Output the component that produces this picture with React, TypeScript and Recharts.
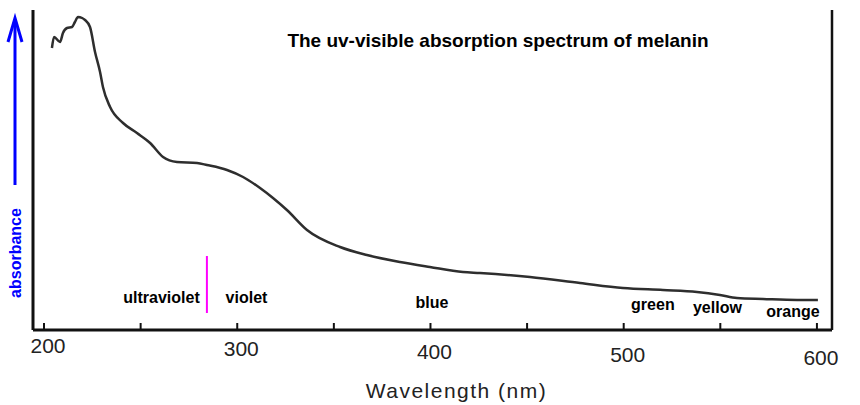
import { LineChart, Line, XAxis, YAxis, ReferenceDot, ReferenceLine } from 'recharts';

// Melanin absorption curve (arbitrary absorbance units)
const wavelength = [
  204.1, 205.2, 208.3, 209.8, 211.9, 214.5, 216.0, 217.6, 219.7, 221.2, 223.8, 226.4, 229.0,
  230.5, 234.2, 240.9, 248.1, 254.9, 261.6, 268.8, 279.2, 284.3, 294.7, 303.0, 311.8, 318.5,
  325.7, 336.1, 353.2, 367.1, 384.2, 399.7, 416.8, 425.6, 451.5, 477.4, 499.6, 520.3, 537.9,
  549.8, 558.6, 572.1, 589.7, 600.5,
];
const absorbance = [
  2.82, 2.93, 2.88, 2.97, 3.02, 3.03, 3.08, 3.13, 3.12, 3.1, 3.03, 2.78, 2.58,
  2.43, 2.23, 2.07, 1.97, 1.87, 1.73, 1.68, 1.67, 1.65, 1.6, 1.53, 1.42, 1.32,
  1.2, 1.0, 0.83, 0.75, 0.68, 0.63, 0.58, 0.57, 0.53, 0.47, 0.42, 0.4, 0.38,
  0.35, 0.32, 0.31, 0.3, 0.3,
];

const xTicks = [200, 250, 300, 350, 400, 450, 500, 550, 600];

// Colour band names under the curve
const bandNames = ['ultraviolet', 'violet', 'blue', 'green', 'yellow', 'orange'];
const bandCentres = [260.8, 304.8, 400.8, 515.1, 548.5, 587.6];
const bandLevels = [0.27, 0.27, 0.22, 0.2, 0.17, 0.13];

// UV / visible boundary marker
const uvBoundary = 284.3;
const uvBoundaryRange = [0.17, 0.74];

const data = wavelength.map((nm, i) => ({ nm, abs: absorbance[i] }));

const sans = 'Liberation Sans, Arial, sans-serif';

function XTick(props: any) {
  const { x, y, payload } = props;
  const v = payload.value as number;
  // the scan is slightly tilted, labels drift down to the right
  const drop = 23 + ((v - 200) / 400) * 12;
  return (
    <g>
      <line x1={x} y1={y} x2={x} y2={y - 7} stroke="#111" strokeWidth={2} />
      {v % 100 === 0 && (
        <text x={x + 4} y={y + drop} textAnchor="middle" fontFamily={sans} fontSize={21} fill="#222">
          {v}
        </text>
      )}
    </g>
  );
}

function YArrow() {
  return (
    <g>
      <line x1={15} y1={185} x2={15} y2={20} stroke="#0000ff" strokeWidth={3} />
      <polyline points="8,42 15,18 22,42" fill="none" stroke="#0000ff" strokeWidth={3} />
      <text
        x={21}
        y={253}
        transform="rotate(-90, 21, 253)"
        textAnchor="middle"
        fontFamily={sans}
        fontWeight="bold"
        fontSize={16}
        fill="#0000ff"
      >
        absorbance
      </text>
    </g>
  );
}

function XTitle(props: any) {
  const { viewBox } = props;
  return (
    <text
      x={viewBox.x + viewBox.width * 0.53}
      y={viewBox.y + 68}
      textAnchor="middle"
      fontFamily={sans}
      fontSize={21}
      letterSpacing={1.5}
      fill="#222"
    >
      Wavelength (nm)
    </text>
  );
}

function bandLabel(name: string) {
  return (props: any) => {
    const { viewBox } = props;
    return (
      <text x={viewBox.x} y={viewBox.y} textAnchor="middle" fontFamily={sans} fontWeight="bold" fontSize={16} fill="#000">
        {name}
      </text>
    );
  };
}

export default function App() {
  return (
    <div style={{ position: 'absolute', left: 0, top: 0, width: 860, height: 405, background: '#fff' }}>
      <div
        style={{
          position: 'absolute',
          left: 248,
          top: 31,
          width: 500,
          textAlign: 'center',
          fontFamily: sans,
          fontWeight: 'bold',
          fontSize: 19,
          lineHeight: '19px',
          color: '#000',
        }}
      >
        The uv-visible absorption spectrum of melanin
      </div>
      <LineChart width={860} height={405} data={data} margin={{ top: 10, right: 27, bottom: 74, left: 32 }}>
        <XAxis
          type="number"
          dataKey="nm"
          domain={[194.3, 607.8]}
          ticks={xTicks}
          interval={0}
          allowDataOverflow
          height={1}
          tickSize={0}
          tickMargin={0}
          tickLine={false}
          axisLine={{ stroke: '#111', strokeWidth: 3 }}
          tick={<XTick />}
          label={<XTitle />}
        />
        <YAxis
          domain={[0, 3.2]}
          width={1}
          tick={false}
          tickLine={false}
          axisLine={{ stroke: '#111', strokeWidth: 3 }}
          label={<YArrow />}
        />
        <YAxis
          yAxisId="r"
          orientation="right"
          domain={[0, 3.2]}
          width={1}
          tick={false}
          tickLine={false}
          axisLine={{ stroke: '#111', strokeWidth: 2.5 }}
        />
        <Line
          type="monotone"
          dataKey="abs"
          stroke="#2e2e2e"
          strokeWidth={2.5}
          dot={false}
          isAnimationActive={false}
        />
        <ReferenceLine
          segment={[
            { x: uvBoundary, y: uvBoundaryRange[0] },
            { x: uvBoundary, y: uvBoundaryRange[1] },
          ]}
          stroke="#ff00ff"
          strokeWidth={2}
        />
        {bandNames.map((name, i) => (
          <ReferenceDot
            key={name}
            x={bandCentres[i]}
            y={bandLevels[i]}
            r={0}
            fill="none"
            stroke="none"
            label={bandLabel(name)}
          />
        ))}
      </LineChart>
    </div>
  );
}
